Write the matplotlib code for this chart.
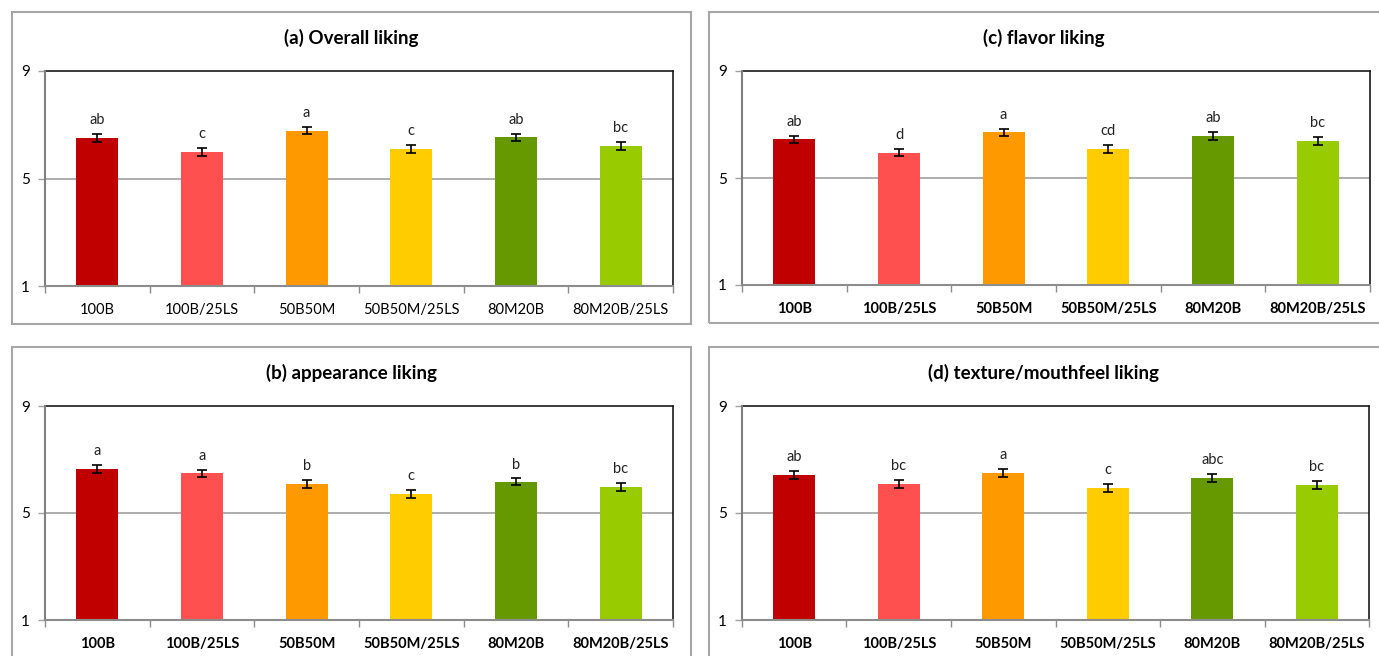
import matplotlib
matplotlib.use("Agg")
import matplotlib.pyplot as plt
from matplotlib.patches import Rectangle

plt.rcParams['font.family'] = ['Lato', 'DejaVu Sans']

categories = ["100B", "100B/25LS", "50B50M", "50B50M/25LS", "80M20B", "80M20B/25LS"]
bar_colors = ["#C00000", "#FF5050", "#FF9900", "#FFCC00", "#669900", "#99CC00"]

overall_vals = [6.51, 5.99, 6.77, 6.10, 6.54, 6.21]
overall_err = [0.15, 0.15, 0.13, 0.15, 0.13, 0.15]
overall_letters = ["ab", "c", "a", "c", "ab", "bc"]

appearance_vals = [6.64, 6.49, 6.08, 5.70, 6.16, 5.97]
appearance_err = [0.14, 0.13, 0.15, 0.15, 0.13, 0.16]
appearance_letters = ["a", "a", "b", "c", "b", "bc"]

flavor_vals = [6.44, 5.95, 6.71, 6.07, 6.56, 6.37]
flavor_err = [0.14, 0.14, 0.13, 0.15, 0.15, 0.15]
flavor_letters = ["ab", "d", "a", "cd", "ab", "bc"]

texture_vals = [6.42, 6.08, 6.49, 5.93, 6.31, 6.05]
texture_err = [0.16, 0.16, 0.15, 0.16, 0.15, 0.16]
texture_letters = ["ab", "bc", "a", "c", "abc", "bc"]

W, H = 1379, 656
fig = plt.figure(figsize=(W / 100, H / 100), dpi=100)


def px_rect(left, top, right, bottom):
    return [left / W, 1 - bottom / H, (right - left) / W, (bottom - top) / H]


panels = [
    # title, values, errors, letters, box (l,t,r,b), axes (l,t,r,b), bold ticks
    ("(a) Overall liking", overall_vals, overall_err, overall_letters,
     (12, 12, 691, 324), (45, 71, 673, 286), False),
    ("(c) flavor liking", flavor_vals, flavor_err, flavor_letters,
     (709, 12, 1395, 323), (742, 71, 1370, 285), True),
    ("(b) appearance liking", appearance_vals, appearance_err, appearance_letters,
     (12, 347, 691, 670), (45, 406, 673, 620), True),
    ("(d) texture/mouthfeel liking", texture_vals, texture_err, texture_letters,
     (709, 347, 1395, 670), (742, 406, 1369, 620), True),
]

for title, vals, errs, letters, box, axbox, bold in panels:
    bl, bt, br, bb = box
    fig.patches.append(Rectangle((bl / W, 1 - bb / H), (br - bl) / W, (bb - bt) / H,
                                 transform=fig.transFigure, fill=False,
                                 edgecolor="#A6A6A6", linewidth=1.5, zorder=0))
    visible_right = min(br, W)
    fig.text((bl + visible_right) / 2 / W, 1 - (bt + 26) / H, title,
             ha="center", va="center", fontsize=13.5, fontweight="bold",
             color="black")

    ax = fig.add_axes(px_rect(*axbox))
    x = list(range(len(categories)))
    ax.bar(x, vals, width=0.40, bottom=0, color=bar_colors, zorder=2)
    ax.errorbar(x, vals, yerr=errs, fmt="none", ecolor="black",
                elinewidth=1.2, capsize=3.5, capthick=1.2, zorder=3)
    for xi, v, e, lab in zip(x, vals, errs, letters):
        ax.annotate(lab, (xi, v + e), xytext=(0, 5), textcoords="offset points",
                    ha="center", va="bottom", fontsize=10.5, color="#222222")

    ax.set_ylim(1, 9)
    ax.set_xlim(-0.5, 5.5)
    ax.set_yticks([1, 5, 9])
    ax.set_yticklabels(["1", "5", "9"])
    ax.axhline(5, color="#A0A0A0", linewidth=1.2, zorder=1)

    ax.set_xticks([i - 0.5 for i in range(7)], minor=False)
    ax.set_xticklabels([])
    ax.set_xticks(x, minor=True)
    ax.set_xticklabels(categories, minor=True,
                       fontweight="bold" if bold else "normal", fontsize=10.5)
    ax.tick_params(axis="x", which="major", direction="out", length=5,
                   color="#8C8C8C", width=1)
    ax.tick_params(axis="x", which="minor", length=0, pad=12)
    ax.tick_params(axis="y", direction="out", length=5, color="#A0A0A0",
                   width=1, labelsize=11, pad=6)

    for side in ("top", "right"):
        ax.spines[side].set_color("#1A1A1A")
        ax.spines[side].set_linewidth(1.2)
    ax.spines["left"].set_color("#7F7F7F")
    ax.spines["left"].set_linewidth(1.5)
    ax.spines["bottom"].set_color("#8C8C8C")
    ax.spines["bottom"].set_linewidth(1.5)
    ax.spines["left"].set_zorder(4)
    ax.spines["bottom"].set_zorder(4)

fig.savefig("out.png", dpi=100)
